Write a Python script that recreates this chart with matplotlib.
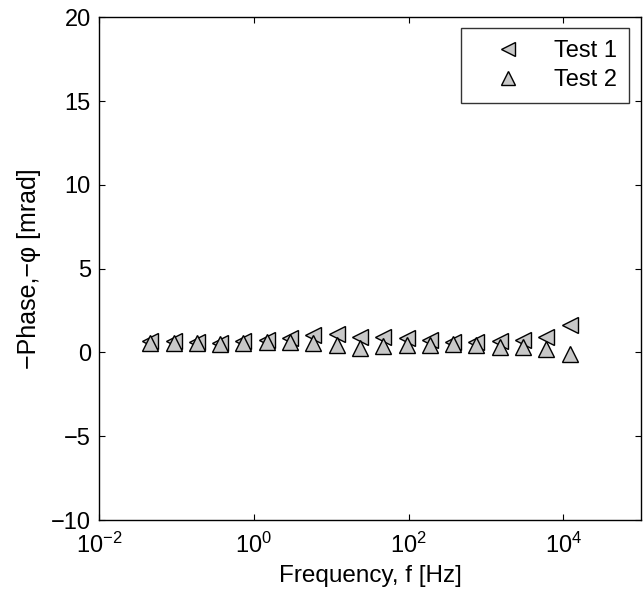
import numpy as np
import matplotlib
matplotlib.use("Agg")
import matplotlib.pyplot as plt
from matplotlib.ticker import FixedLocator, NullLocator

plt.rcParams['font.family'] = ['Liberation Sans', 'DejaVu Sans']
plt.rcParams['mathtext.fontset'] = 'custom'
plt.rcParams['mathtext.rm'] = 'Liberation Sans'
plt.rcParams['mathtext.default'] = 'regular'

freq = [0.0458, 0.0916, 0.183, 0.366, 0.732, 1.46, 2.93, 5.86, 11.7, 23.4,
        46.9, 93.8, 187.5, 375, 750, 1500, 3000, 6000, 12000]
test1 = [0.70, 0.66, 0.62, 0.58, 0.66, 0.76, 0.84, 1.02, 1.12, 0.95,
         0.91, 0.87, 0.75, 0.61, 0.61, 0.67, 0.75, 0.95, 1.61]
test2 = [0.58, 0.55, 0.56, 0.50, 0.57, 0.62, 0.62, 0.58, 0.47, 0.25,
         0.40, 0.45, 0.45, 0.48, 0.45, 0.35, 0.35, 0.20, -0.08]
labels = ['Test 1', 'Test 2']
xticks = [1e-2, 1e0, 1e2, 1e4]
yticks = [-10, -5, 0, 5, 10, 15, 20]

fig = plt.figure(figsize=(6.44, 5.95), dpi=100)
ax = fig.add_axes([0.154, 0.126, 0.841, 0.845])

face = '#c8c8c8'
ax.plot(freq, test1, linestyle='none', marker='<', markersize=12,
        markerfacecolor=face, markeredgecolor='black', markeredgewidth=1.0,
        label=labels[0])
ax.plot(freq, test2, linestyle='none', marker='^', markersize=12,
        markerfacecolor=face, markeredgecolor='black', markeredgewidth=1.0,
        label=labels[1])

ax.set_xscale('log')
ax.set_xlim(1e-2, 1e5)
ax.set_ylim(-10, 20)
ax.xaxis.set_major_locator(FixedLocator(xticks))
ax.xaxis.set_minor_locator(NullLocator())
ax.set_yticks(yticks)
ax.set_yticklabels([str(v).replace('-', '\u2212') for v in yticks])

ax.tick_params(direction='in', top=True, right=True, labelsize=17,
               length=4, width=0.8)
ax.tick_params(axis='x', pad=9)
ax.tick_params(axis='y', pad=6)
for s in ax.spines.values():
    s.set_linewidth(1.0)

ax.set_xlabel('Frequency, f [Hz]', fontsize=17.5, labelpad=5)
ax.set_ylabel('\u2212Phase,\u2212\u03c6 [mrad]', fontsize=18, labelpad=7)

leg = ax.legend(loc='upper right', bbox_to_anchor=(0.978, 0.978),
                borderaxespad=0, fontsize=17, frameon=True, fancybox=False,
                edgecolor='black', handletextpad=0.45, handlelength=3.0,
                borderpad=0.5, labelspacing=0.3, markerscale=0.8)
leg.get_frame().set_linewidth(1.0)

fig.savefig('out.png', dpi=100)
